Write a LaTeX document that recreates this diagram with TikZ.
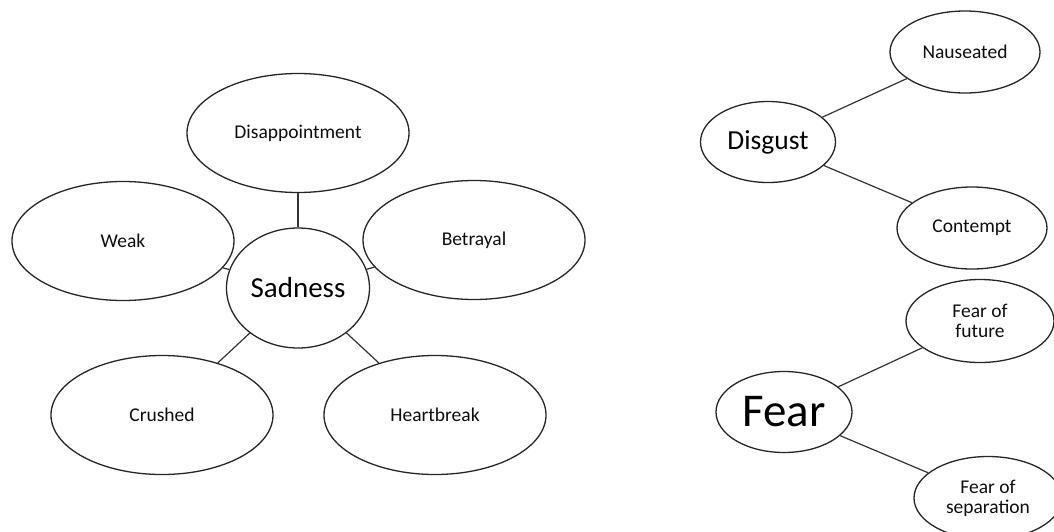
\documentclass[tikz,border=0pt]{standalone}
\usepackage{fontspec}
\setmainfont{Carlito}
\usetikzlibrary{shapes.geometric}
\tikzstyle{emo} = [ellipse, draw=black!85, line width=1.3pt, inner sep=0pt, minimum width=222pt, minimum height=119pt, text=black!95, font=\fontsize{19.5}{20}\selectfont]
\tikzstyle{core} = [ellipse, draw=black!85, line width=1.3pt, inner sep=0pt, minimum width=143pt, minimum height=120pt, text=black, font=\fontsize{29}{32}\selectfont]
\tikzstyle{sub} = [ellipse, draw=black!85, line width=1.3pt, inner sep=0pt, minimum width=150pt, minimum height=82pt, text=black!95, align=center, font=\fontsize{19.5}{20}\selectfont]
\tikzstyle{head} = [ellipse, draw=black!85, line width=1.3pt, inner sep=0pt, minimum width=135pt, minimum height=81pt, text=black]
\tikzstyle{link} = [black!80, line width=1.2pt]

\begin{document}
\begin{tikzpicture}[node distance=155pt]
                \useasboundingbox (0,0) rectangle (1054pt,-531pt);
                % sadness cluster
                \node (sad) [core] at (298pt,-288pt) {Sadness};
                \node (dis) [emo, above of=sad] {Disappointment};
                \node (weak) [emo, left of=sad, xshift=-20pt, yshift=47pt] {Weak};
                \node (bet) [emo, right of=sad, xshift=21pt, yshift=48pt] {Betrayal};
                \node (cru) [emo, left of=sad, xshift=19pt, yshift=-127pt] {Crushed};
                \node (heart) [emo, right of=sad, xshift=-18pt, yshift=-127pt] {Heartbreak};

                % disgust and fear
                \node (disg) [head, font=\fontsize{27.5}{30}\selectfont] at (768pt,-142pt) {Disgust};
                \node (nau) [sub, right of=disg, xshift=42pt, yshift=90pt] {Nauseated};
                \node (con) [sub, right of=disg, xshift=49pt, yshift=-86pt] {Contempt};
                \node (fear) [head, minimum width=136pt, font=\fontsize{47}{50}\selectfont] at (784pt,-412pt) {Fear};
                \node (ffut) [sub, minimum width=148pt, minimum height=83pt, right of=fear, xshift=41pt, yshift=91pt] {Fear of\\future};
                \node (fsep) [sub, minimum width=148pt, minimum height=83pt, right of=fear, xshift=49pt, yshift=-86pt] {Fear of\\separation};

                \draw [link] (sad) -- (dis);
                \draw [link] (sad) -- (weak);
                \draw [link] (sad) -- (bet);
                \draw [link] (sad) -- (cru);
                \draw [link] (sad) -- (heart);
                \draw [link] (disg) -- (nau);
                \draw [link] (disg) -- (con);
                \draw [link] (fear) -- (ffut);
                \draw [link] (fear) -- (fsep);
            \end{tikzpicture}
\end{document}
